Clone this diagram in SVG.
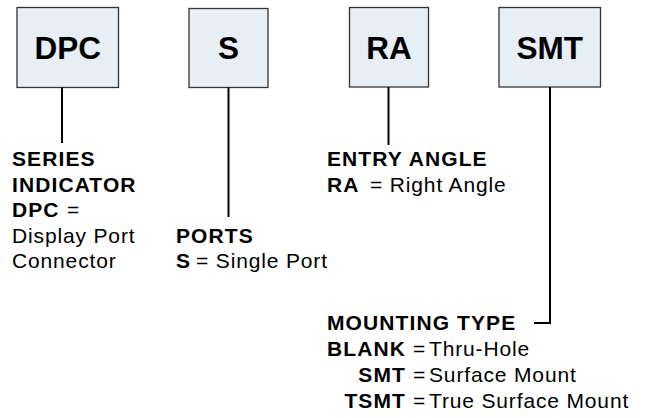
<svg xmlns="http://www.w3.org/2000/svg" width="649" height="418" viewBox="0 0 649 418">
<style>
.box{fill:#e7eef4;stroke:#333;stroke-width:1.3}
.bt{font-family:"Liberation Sans",Arial,sans-serif;font-weight:bold;font-size:31.5px;fill:#000;text-anchor:middle}
.t{font-family:"Liberation Sans",Arial,sans-serif;font-size:21px;fill:#000;letter-spacing:0.85px}
.b{font-weight:bold;letter-spacing:1.1px}
.ln{stroke:#000;stroke-width:2;fill:none}
</style>
<rect width="649" height="418" fill="#fff"/>
<g id="node-dpc"><rect class="box" x="17" y="7.5" width="101.5" height="80"/><text class="bt" x="67.7" y="59">DPC</text></g>
<g id="node-s"><rect class="box" x="189" y="8.5" width="79" height="79"/><text class="bt" x="228.5" y="59">S</text></g>
<g id="node-ra"><rect class="box" x="349.5" y="7.5" width="79" height="79.5"/><text class="bt" x="389" y="59">RA</text></g>
<g id="node-smt"><rect class="box" x="499" y="7.5" width="101.5" height="79.5"/><text class="bt" x="549.7" y="59">SMT</text></g>
<g id="connectors">
<line class="ln" x1="62" y1="87.5" x2="62" y2="143"/>
<line class="ln" x1="228.5" y1="87.5" x2="228.5" y2="217"/>
<line class="ln" x1="388.5" y1="87" x2="388.5" y2="145"/>
<polyline class="ln" points="550,87 550,323 534,323"/>
</g>
<g id="label-series">
<text class="t b" x="12" y="166">SERIES</text>
<text class="t b" x="12" y="191.5">INDICATOR</text>
<text class="t" x="12" y="217"><tspan class="b">DPC</tspan><tspan x="67">=</tspan></text>
<text class="t" x="12" y="242.5">Display Port</text>
<text class="t" x="12" y="268">Connector</text>
</g>
<g id="label-ports">
<text class="t b" x="176" y="242.5">PORTS</text>
<text class="t" x="176" y="268"><tspan class="b">S</tspan><tspan x="196">= Single Port</tspan></text>
</g>
<g id="label-entry">
<text class="t b" x="327" y="166">ENTRY ANGLE</text>
<text class="t" x="327" y="191.5"><tspan class="b">RA</tspan><tspan x="370">= Right Angle</tspan></text>
</g>
<g id="label-mounting">
<text class="t b" x="327" y="330">MOUNTING TYPE</text>
<text class="t b" x="406" y="356" text-anchor="end">BLANK</text>
<text class="t" x="413" y="356">=</text><text class="t" x="429" y="356">Thru-Hole</text>
<text class="t b" x="406" y="382" text-anchor="end">SMT</text>
<text class="t" x="413" y="382">=</text><text class="t" x="429" y="382">Surface Mount</text>
<text class="t b" x="406" y="408" text-anchor="end">TSMT</text>
<text class="t" x="413" y="408">=</text><text class="t" x="429" y="408">True Surface Mount</text>
</g>
</svg>
